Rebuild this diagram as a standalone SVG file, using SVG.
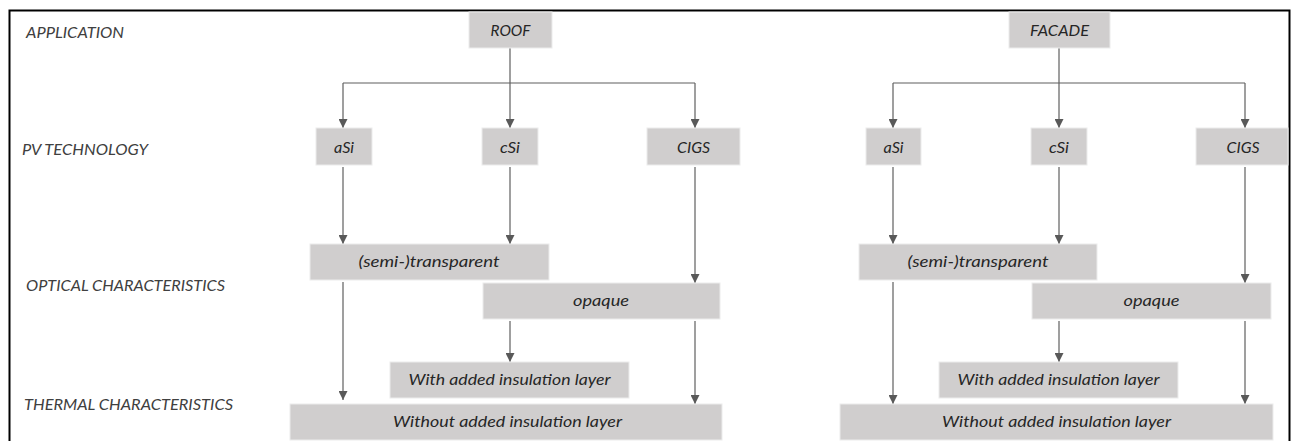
<svg xmlns="http://www.w3.org/2000/svg" width="1294" height="441" viewBox="0 0 1294 441">
  <defs>
    <marker id="arrow" markerUnits="userSpaceOnUse" markerWidth="9" markerHeight="9" refX="9" refY="4.5" orient="auto">
      <path d="M0,0 L9,4.5 L0,9 z" fill="#595959"/>
    </marker>
    <style>
      .box { fill: #d0cece; stroke: #ececec; stroke-width: 1; }
      .t { font-family: "Lato", "Open Sans", sans-serif; font-style: italic; font-weight: 400; font-size: 16px; fill: #262626; text-anchor: middle; }
      .lbl { font-family: "Lato", "Open Sans", sans-serif; font-style: italic; font-weight: 400; font-size: 16px; fill: #404040; }
      .c { stroke: #5f5f5f; stroke-width: 1.2; fill: none; }
      .ca { stroke: #5f5f5f; stroke-width: 1.2; fill: none; marker-end: url(#arrow); }
    </style>
  </defs>

  <rect width="1294" height="441" fill="#ffffff"/>
  <!-- outer frame (bottom edge lies below the canvas) -->
  <rect x="9.5" y="10.5" width="1280" height="450" fill="none" stroke="#000000" stroke-width="2"/>

  <!-- level labels -->
  <g id="levels">
    <text class="lbl" x="26" y="38" textLength="98" lengthAdjust="spacingAndGlyphs">APPLICATION</text>
    <text class="lbl" x="22" y="155" textLength="126" lengthAdjust="spacingAndGlyphs">PV TECHNOLOGY</text>
    <text class="lbl" x="26" y="291" textLength="199" lengthAdjust="spacingAndGlyphs">OPTICAL CHARACTERISTICS</text>
    <text class="lbl" x="24" y="410" textLength="209" lengthAdjust="spacingAndGlyphs">THERMAL CHARACTERISTICS</text>
  </g>

  <!-- connectors -->
  <g id="connectors">
    <!-- roof branch -->
    <line class="ca" x1="510" y1="48" x2="510" y2="128"/>
    <line class="c" x1="343" y1="83" x2="695" y2="83"/>
    <line class="ca" x1="343" y1="83" x2="343" y2="128"/>
    <line class="ca" x1="695" y1="83" x2="695" y2="128"/>
    <line class="ca" x1="343" y1="167" x2="343" y2="244"/>
    <line class="ca" x1="510" y1="167" x2="510" y2="244"/>
    <line class="ca" x1="695" y1="167" x2="695" y2="283"/>
    <line class="ca" x1="343" y1="282" x2="343" y2="400"/>
    <line class="ca" x1="510" y1="321" x2="510" y2="362"/>
    <line class="ca" x1="695" y1="321" x2="695" y2="404"/>
    <!-- facade branch -->
    <line class="ca" x1="1059" y1="48" x2="1059" y2="128"/>
    <line class="c" x1="893" y1="83" x2="1245" y2="83"/>
    <line class="ca" x1="893" y1="83" x2="893" y2="128"/>
    <line class="ca" x1="1245" y1="83" x2="1245" y2="128"/>
    <line class="ca" x1="893" y1="167" x2="893" y2="244"/>
    <line class="ca" x1="1059" y1="167" x2="1059" y2="244"/>
    <line class="ca" x1="1245" y1="167" x2="1245" y2="283"/>
    <line class="ca" x1="893" y1="282" x2="893" y2="404"/>
    <line class="ca" x1="1059" y1="321" x2="1059" y2="362"/>
    <line class="ca" x1="1245" y1="321" x2="1245" y2="404"/>
  </g>

  <!-- roof tree -->
  <g id="roof">
    <rect class="box" x="469" y="12" width="83" height="36"/>
    <text class="t" x="510.5" y="36" textLength="40" lengthAdjust="spacingAndGlyphs">ROOF</text>
  </g>
  <g id="roof-asi">
    <rect class="box" x="316" y="128" width="56" height="37"/>
    <text class="t" x="344" y="153" textLength="20" lengthAdjust="spacingAndGlyphs">aSi</text>
  </g>
  <g id="roof-csi">
    <rect class="box" x="482" y="128" width="56" height="37"/>
    <text class="t" x="510" y="153" textLength="20" lengthAdjust="spacingAndGlyphs">cSi</text>
  </g>
  <g id="roof-cigs">
    <rect class="box" x="647" y="128" width="93" height="37"/>
    <text class="t" x="693.5" y="153" textLength="33" lengthAdjust="spacingAndGlyphs">CIGS</text>
  </g>
  <g id="roof-semi">
    <rect class="box" x="310" y="244" width="239" height="36"/>
    <text class="t" x="429" y="267" textLength="141" lengthAdjust="spacingAndGlyphs">(semi-)transparent</text>
  </g>
  <g id="roof-opaque">
    <rect class="box" x="483" y="283" width="237" height="36"/>
    <text class="t" x="601" y="306" textLength="56" lengthAdjust="spacingAndGlyphs">opaque</text>
  </g>
  <g id="roof-with">
    <rect class="box" x="390" y="362" width="239" height="36"/>
    <text class="t" x="509.5" y="385" textLength="202" lengthAdjust="spacingAndGlyphs">With added insulation layer</text>
  </g>
  <g id="roof-without">
    <rect class="box" x="290" y="404" width="432" height="36"/>
    <text class="t" x="507.5" y="427" textLength="229" lengthAdjust="spacingAndGlyphs">Without added insulation layer</text>
  </g>

  <!-- facade tree -->
  <g id="facade">
    <rect class="box" x="1009" y="12" width="101" height="36"/>
    <text class="t" x="1059.5" y="36" textLength="59" lengthAdjust="spacingAndGlyphs">FACADE</text>
  </g>
  <g id="facade-asi">
    <rect class="box" x="866" y="128" width="55" height="37"/>
    <text class="t" x="893.5" y="153" textLength="20" lengthAdjust="spacingAndGlyphs">aSi</text>
  </g>
  <g id="facade-csi">
    <rect class="box" x="1031" y="128" width="56" height="37"/>
    <text class="t" x="1059" y="153" textLength="20" lengthAdjust="spacingAndGlyphs">cSi</text>
  </g>
  <g id="facade-cigs">
    <rect class="box" x="1196" y="128" width="92" height="37"/>
    <text class="t" x="1243" y="153" textLength="33" lengthAdjust="spacingAndGlyphs">CIGS</text>
  </g>
  <g id="facade-semi">
    <rect class="box" x="859" y="244" width="238" height="36"/>
    <text class="t" x="978" y="267" textLength="141" lengthAdjust="spacingAndGlyphs">(semi-)transparent</text>
  </g>
  <g id="facade-opaque">
    <rect class="box" x="1032" y="283" width="239" height="36"/>
    <text class="t" x="1151.5" y="306" textLength="56" lengthAdjust="spacingAndGlyphs">opaque</text>
  </g>
  <g id="facade-with">
    <rect class="box" x="939" y="362" width="239" height="36"/>
    <text class="t" x="1058.5" y="385" textLength="202" lengthAdjust="spacingAndGlyphs">With added insulation layer</text>
  </g>
  <g id="facade-without">
    <rect class="box" x="840" y="404" width="433" height="36"/>
    <text class="t" x="1056.5" y="427" textLength="229" lengthAdjust="spacingAndGlyphs">Without added insulation layer</text>
  </g>
</svg>
